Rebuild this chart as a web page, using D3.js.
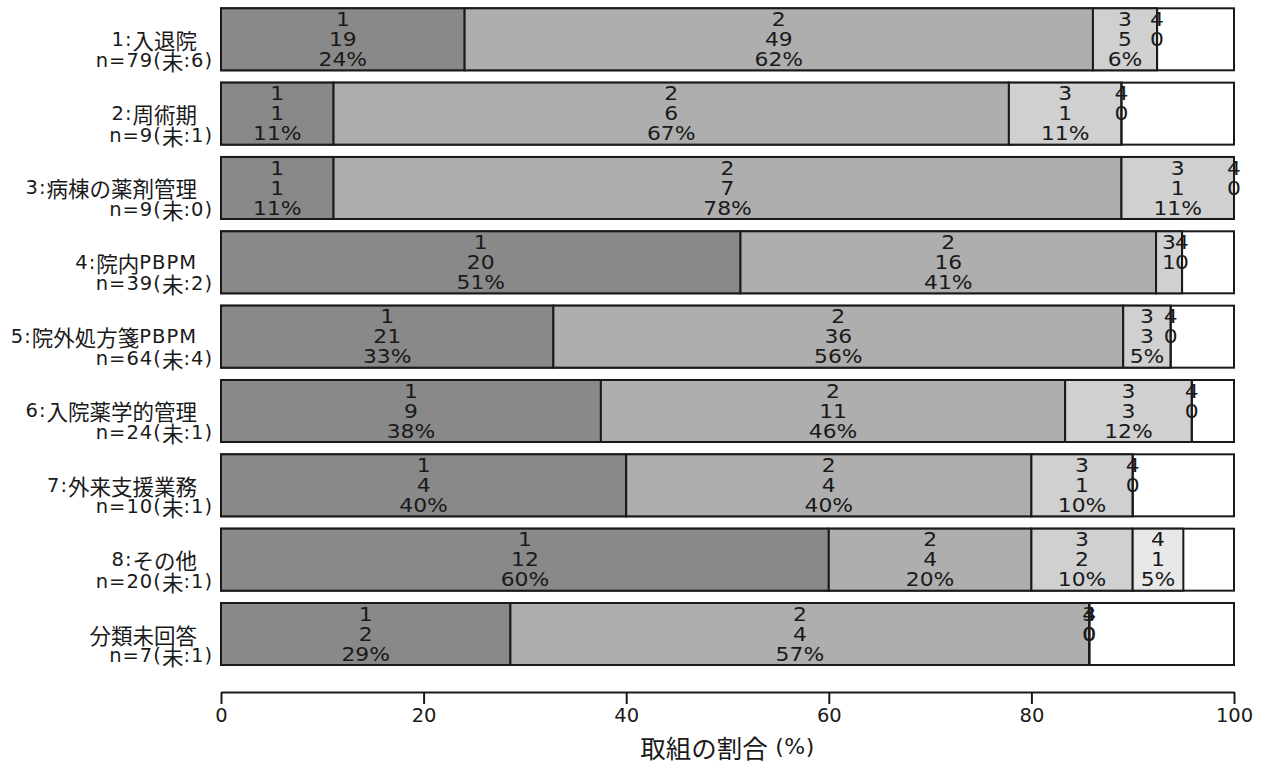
<!DOCTYPE html>
<html><head><meta charset="utf-8">
<script src="https://cdn.jsdelivr.net/npm/d3@7"></script>
<style>
body{margin:0;background:#fff;}
text{font-family:"DejaVu Sans","Noto Sans CJK JP",sans-serif;}
</style></head>
<body><svg id="c" width="1266" height="763"></svg>
<script>
const categories = ["1:入退院", "2:周術期", "3:病棟の薬剤管理", "4:院内PBPM", "5:院外処方箋PBPM", "6:入院薬学的管理", "7:外来支援業務", "8:その他", "分類未回答"];
const nTotal     = [79, 9, 9, 39, 64, 24, 10, 20, 7];
const unanswered = [6, 1, 0, 2, 4, 1, 1, 1, 1];
const level1 = [19, 1, 1, 20, 21, 9, 4, 12, 2];
const level2 = [49, 6, 7, 16, 36, 11, 4, 4, 4];
const level3 = [5, 1, 1, 1, 3, 3, 1, 2, 0];
const level4 = [0, 0, 0, 0, 0, 0, 0, 1, 0];
const levelNames = ["1", "2", "3", "4"];
const levelColors = ["#898989", "#aeaeae", "#d0d0d0", "#e8e8e8"];
const xTicks = [0, 20, 40, 60, 80, 100];
const xTitle = "取組の割合 (%)";

const levels = [level1, level2, level3, level4];
const svg = d3.select("#c");
const x = d3.scaleLinear().domain([0, 100]).range([221, 1234]);
const y = d3.scaleBand().domain(categories).range([8.3, 665]).paddingInner(0.166).paddingOuter(0);
const bh = y.bandwidth();
const INK = "#1a1a1a";

function roundEven(v) {
  const f = Math.floor(v);
  const d = v - f;
  if (Math.abs(d - 0.5) < 1e-9) return (f % 2 === 0) ? f : f + 1;
  return Math.round(v);
}

function mixedText(sel, str, latinSize, cjkSize, ls) {
  const re = /([\u3000-\u9fff\uff00-\uffef]+)/;
  str.split(re).filter(s => s.length).forEach(run => {
    const isCJK = re.test(run);
    sel.append("tspan")
      .attr("font-family", isCJK ? "Noto Sans CJK JP" : "DejaVu Sans")
      .attr("font-size", isCJK ? cjkSize : latinSize)
      .attr("letter-spacing", isCJK ? 0 : ls)
      .text(run);
  });
  return sel;
}

categories.forEach((cat, i) => {
  const g = svg.append("g");
  const top = y(cat);
  const n = nTotal[i];
  g.append("rect").attr("x", x(0)).attr("y", top).attr("width", x(100) - x(0)).attr("height", bh)
    .attr("fill", "#fff").attr("stroke", INK).attr("stroke-width", 2);
  let cum = 0;
  const segs = levels.map((arr, k) => {
    const v = arr[i];
    const p0 = cum / n * 100;
    cum += v;
    const p1 = cum / n * 100;
    return {k, v, p0, p1};
  });
  segs.forEach(s => {
    if (s.v > 0) {
      g.append("rect").attr("x", x(s.p0)).attr("y", top).attr("width", x(s.p1) - x(s.p0)).attr("height", bh)
        .attr("fill", levelColors[s.k]).attr("stroke", INK).attr("stroke-width", 2);
    } else {
      g.append("line").attr("x1", x(s.p0)).attr("x2", x(s.p0)).attr("y1", top).attr("y2", top + bh)
        .attr("stroke", INK).attr("stroke-width", 2);
    }
  });
  segs.forEach(s => {
    const cx = x((s.p0 + s.p1) / 2);
    const pct = s.v / n * 100;
    const lines = [levelNames[s.k], String(s.v)];
    if (pct >= 4) lines.push(roundEven(pct) + "%");
    lines.forEach((t, j) => {
      g.append("text")
        .attr("transform", `translate(${cx},${top + 11 + j * 20}) scale(1.12,1)`)
        .attr("text-anchor", "middle").attr("dominant-baseline", "central")
        .attr("font-size", 19.5).attr("fill", INK).text(t);
    });
  });
  const t1 = g.append("text").attr("x", 197).attr("y", top + 30.5).attr("text-anchor", "end")
    .attr("dominant-baseline", "central").attr("fill", INK);
  mixedText(t1, cat, 19.5, 21.5, 1);
  const t2 = g.append("text").attr("x", 213).attr("y", top + 52).attr("text-anchor", "end")
    .attr("dominant-baseline", "central").attr("fill", INK);
  mixedText(t2, "n=" + n + "(未:" + unanswered[i] + ")", 19.5, 21.5, 1);
});

const ax = svg.append("g").attr("transform", "translate(0,692)")
  .call(d3.axisBottom(x).tickValues(xTicks).tickSize(12).tickSizeOuter(0));
ax.select(".domain").attr("stroke", INK).attr("stroke-width", 2);
ax.selectAll(".tick line").attr("stroke", INK).attr("stroke-width", 2);
ax.selectAll(".tick text").attr("font-size", 19.5).attr("fill", INK)
  .attr("font-family", "DejaVu Sans").attr("y", 23).attr("dy", null)
  .attr("dominant-baseline", "central");

const tt = svg.append("text").attr("x", (x(0) + x(100)) / 2).attr("y", 746).attr("text-anchor", "middle")
  .attr("dominant-baseline", "central").attr("fill", INK);
mixedText(tt, xTitle, 22, 25.5, 0.5);
</script></body></html>
